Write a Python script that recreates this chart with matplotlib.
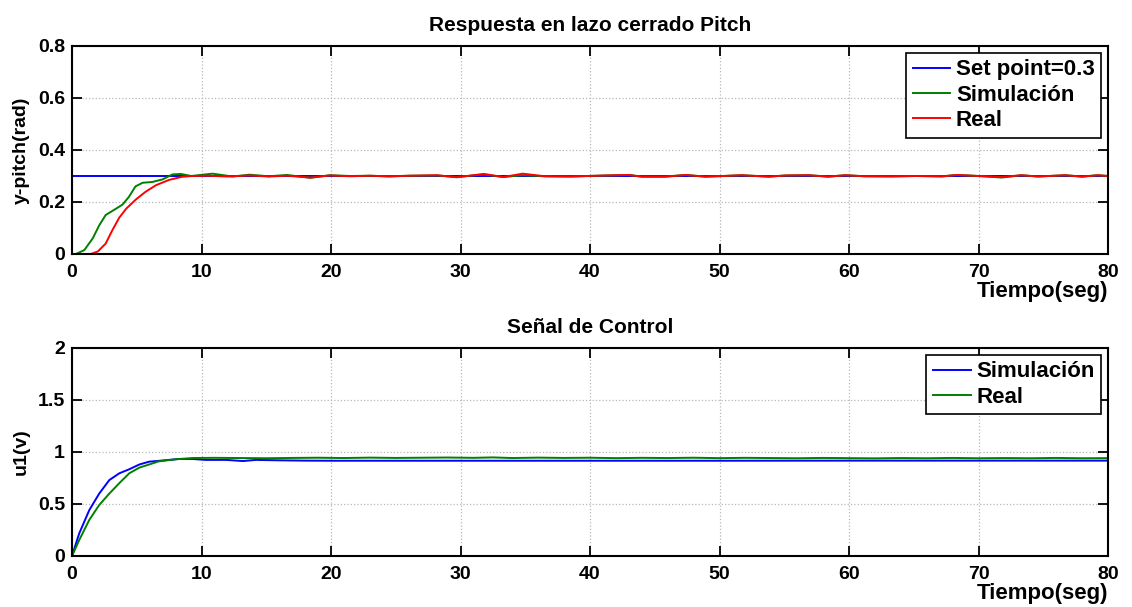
import matplotlib
matplotlib.use("Agg")
import matplotlib.pyplot as plt

plt.rcParams['font.family'] = ['Liberation Sans', 'DejaVu Sans']
plt.rcParams['font.weight'] = 'bold'

# ---- Top plot data (Pitch response) ----
setpoint_t = [0, 80]
setpoint_v = [0.3, 0.3]

sim_t = [0, 0.3, 0.95, 1.6, 2.1, 2.6, 3.26, 3.9, 4.4, 4.9, 5.45, 6.2, 7.0, 7.76, 8.4, 9.2,
         10.85, 12.4, 13.7, 15.2, 16.6, 18.4, 19.9, 21.5, 23.0, 24.5, 26.0, 28.2, 29.7,
         31.8, 33.3, 34.8, 36.5, 38.5, 41.2, 43.0, 44.0, 45.8, 47.4, 48.9, 50.3, 51.7,
         53.8, 55.1, 56.9, 58.4, 59.7, 61.2, 63.3, 65.2, 67.2, 68.3, 70.0, 71.8, 73.3,
         74.6, 76.7, 78.0, 79.2, 80]
sim_v = [0, 0, 0.015, 0.06, 0.11, 0.15, 0.17, 0.19, 0.22, 0.26, 0.274, 0.277, 0.287, 0.306,
         0.308, 0.300, 0.309, 0.298, 0.305, 0.299, 0.304, 0.293, 0.303, 0.300, 0.301, 0.299,
         0.301, 0.302, 0.296, 0.306, 0.296, 0.303, 0.299, 0.298, 0.302, 0.304, 0.298, 0.298,
         0.304, 0.298, 0.300, 0.303, 0.298, 0.302, 0.303, 0.298, 0.303, 0.299, 0.299, 0.300,
         0.299, 0.304, 0.300, 0.294, 0.303, 0.298, 0.303, 0.298, 0.303, 0.300]

real_t = [0, 1.46, 2.0, 2.6, 3.1, 3.65, 4.2, 4.94, 5.7, 6.5, 7.5, 8.5, 9.3, 10.5, 12.0,
          13.7, 15.2, 16.6, 18.4, 19.9, 21.5, 23.0, 24.5, 26.0, 28.2, 29.7, 31.8, 33.3,
          34.8, 36.5, 38.5, 41.2, 43.0, 44.0, 45.8, 47.4, 48.9, 50.3, 51.7, 53.8, 55.1,
          56.9, 58.4, 59.7, 61.2, 63.3, 65.2, 67.2, 68.3, 70.0, 71.8, 73.3, 74.6, 76.7,
          78.0, 79.2, 80]
real_v = [0, 0, 0.01, 0.04, 0.09, 0.14, 0.175, 0.21, 0.24, 0.265, 0.285, 0.297, 0.300,
          0.301, 0.298, 0.302, 0.298, 0.301, 0.294, 0.302, 0.299, 0.301, 0.298, 0.301,
          0.303, 0.295, 0.308, 0.296, 0.309, 0.299, 0.298, 0.302, 0.304, 0.297, 0.297,
          0.304, 0.297, 0.300, 0.303, 0.297, 0.302, 0.303, 0.297, 0.303, 0.299, 0.298,
          0.300, 0.298, 0.304, 0.300, 0.296, 0.303, 0.298, 0.303, 0.297, 0.303, 0.300]

# ---- Bottom plot data (Control signal) ----
usim_t = [0, 0.56, 1.33, 2.1, 2.88, 3.65, 4.42, 5.2, 5.96, 6.7, 8.28, 9.3, 10.3, 11.9,
          13.2, 14.2, 16.0, 18.0, 20.0, 25.0, 30.0, 40.0, 50.0, 60.0, 70.0, 80.0]
usim_v = [0, 0.218, 0.44, 0.60, 0.73, 0.795, 0.834, 0.88, 0.907, 0.915, 0.933, 0.933,
          0.924, 0.924, 0.913, 0.924, 0.920, 0.917, 0.916, 0.916, 0.916, 0.916, 0.916,
          0.917, 0.917, 0.917]

ureal_t = [0, 0.56, 1.33, 2.1, 2.88, 3.65, 4.42, 5.2, 5.96, 6.7, 8.0, 9.3, 11.0, 13.0,
           15.0, 17.0, 19.0, 21.0, 23.0, 25.0, 27.0, 29.0, 31.0, 32.5, 34.0, 36.0, 38.0,
           40.0, 42.0, 44.0, 46.0, 48.0, 50.0, 52.0, 54.0, 56.0, 58.0, 60.0, 62.0, 64.0,
           66.0, 68.0, 70.0, 72.0, 74.0, 76.0, 78.0, 80.0]
ureal_v = [0, 0.154, 0.346, 0.49, 0.60, 0.70, 0.795, 0.85, 0.88, 0.91, 0.93, 0.942,
           0.944, 0.942, 0.940, 0.943, 0.945, 0.942, 0.946, 0.943, 0.945, 0.947, 0.944,
           0.948, 0.942, 0.946, 0.943, 0.945, 0.941, 0.944, 0.942, 0.945, 0.941, 0.944,
           0.942, 0.940, 0.943, 0.941, 0.939, 0.942, 0.940, 0.943, 0.940, 0.942, 0.940,
           0.943, 0.940, 0.941]

top_yticks = [0, 0.2, 0.4, 0.6, 0.8]
top_yticklabels = ['0', '0.2', '0.4', '0.6', '0.8']
bot_yticks = [0, 0.5, 1, 1.5, 2]
bot_yticklabels = ['0', '0.5', '1', '1.5', '2']
xticks = [0, 10, 20, 30, 40, 50, 60, 70, 80]

fig = plt.figure(figsize=(11.32, 6.07), dpi=100)
ax1 = fig.add_axes([72 / 1132, (607 - 254) / 607, 1036 / 1132, 208 / 607])
ax2 = fig.add_axes([72 / 1132, (607 - 556) / 607, 1036 / 1132, 208 / 607])

BLUE = (0, 0, 1)
GREEN = (0, 0.5, 0)
RED = (1, 0, 0)
FS = 14
LFS = 16
TFS = 15

ax1.plot(setpoint_t, setpoint_v, color=BLUE, lw=1.4, label='Set point=0.3')
ax1.plot(sim_t, sim_v, color=GREEN, lw=1.4, label='Simulación')
ax1.plot(real_t, real_v, color=RED, lw=1.4, label='Real')
ax1.set_ylim(0, 0.8)
ax1.set_yticks(top_yticks)
ax1.set_yticklabels(top_yticklabels)
ax1.set_ylabel('y-pitch(rad)', fontsize=FS, fontweight='bold', labelpad=6)
ax1.set_title('Respuesta en lazo cerrado Pitch', fontsize=TFS, fontweight='bold', pad=11)

ax2.plot(usim_t, usim_v, color=BLUE, lw=1.4, label='Simulación')
ax2.plot(ureal_t, ureal_v, color=GREEN, lw=1.4, label='Real')
ax2.set_ylim(0, 2)
ax2.set_yticks(bot_yticks)
ax2.set_yticklabels(bot_yticklabels)
ax2.set_ylabel('u1(v)', fontsize=FS, fontweight='bold', labelpad=6)
ax2.set_title('Señal de Control', fontsize=TFS, fontweight='bold', pad=11)

for ax in (ax1, ax2):
    ax.set_xlim(0, 80)
    ax.set_xticks(xticks)
    ax.set_xticklabels([str(x) for x in xticks])
    ax.set_xlabel('Tiempo(seg)', fontsize=LFS, fontweight='bold', loc='right', labelpad=0)
    ax.grid(True, color='#b8b8b8', linestyle=':', linewidth=0.9)
    ax.tick_params(direction='in', length=7, width=1.3, top=True, right=True,
                   labelsize=FS)
    ax.tick_params(axis='x', pad=7)
    ax.tick_params(axis='y', pad=5)
    for lab in ax.get_xticklabels() + ax.get_yticklabels():
        lab.set_fontweight('bold')
    for sp in ax.spines.values():
        sp.set_linewidth(1.5)
        sp.set_color('black')
    leg = ax.legend(loc='upper right', frameon=True, fancybox=False,
                    edgecolor='black', framealpha=1, handlelength=1.7,
                    handletextpad=0.25, borderpad=0.3, labelspacing=0.2,
                    borderaxespad=0.3, prop={'weight': 'bold', 'size': LFS})
    leg.get_frame().set_linewidth(1.2)

fig.savefig('out.png', dpi=100)
